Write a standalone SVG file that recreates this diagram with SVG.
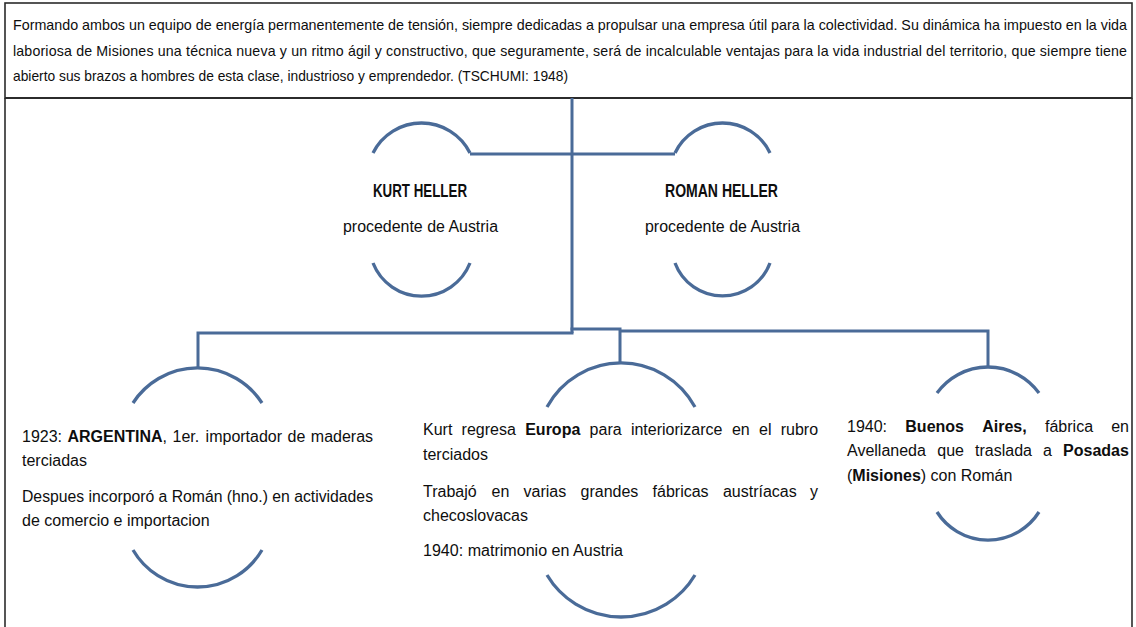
<svg xmlns="http://www.w3.org/2000/svg" width="1136" height="627" viewBox="0 0 1136 627">
<style>
.frame{fill:none;stroke:#2b2b2b;stroke-width:1.6}
.ln{fill:none;stroke:#4a6b98;stroke-width:3;stroke-linecap:butt;stroke-linejoin:miter}
.arc{fill:none;stroke:#4a6b98;stroke-width:3.3}
text{font-family:"Liberation Sans",Arial,sans-serif;fill:#0e0e0e}
.q{font-size:14.2px}
.b{font-size:16px}
.n{font-size:17.5px}
.bold{font-weight:bold}
</style>
<rect width="1136" height="627" fill="#ffffff"/>
<g id="frame">
<rect class="frame" x="5" y="3" width="1127" height="95"/>
<line x1="5" y1="98" x2="1132" y2="98" stroke="#2b2b2b" stroke-width="2.2"/>
<line class="frame" x1="5" y1="98" x2="5" y2="627"/>
<line class="frame" x1="1132" y1="98" x2="1132" y2="627"/>
</g>
<g id="quote">
<text class="q" x="13" y="30" textLength="1114" lengthAdjust="spacingAndGlyphs">Formando ambos un equipo de energía permanentemente de tensión, siempre dedicadas a propulsar una empresa útil para la colectividad. Su dinámica ha impuesto en la vida</text>
<text class="q" x="13" y="56" textLength="1114" lengthAdjust="spacing">laboriosa de Misiones una técnica nueva y un ritmo ágil y constructivo, que seguramente, será de incalculable ventajas para la vida industrial del territorio, que siempre tiene</text>
<text class="q" x="13" y="81" textLength="555" lengthAdjust="spacingAndGlyphs">abierto sus brazos a hombres de esta clase, industrioso y emprendedor. (TSCHUMI: 1948)</text>
</g>
<g id="connectors">
<polyline class="ln" points="470,154 675,154"/>
<polyline class="ln" points="572,98 572,333"/>
<polyline class="ln" points="198,368 198,333 573.5,333"/>
<polyline class="ln" points="570.5,329 620,329 620,364"/>
<polyline class="ln" points="620,331 988,331 988,366"/>
</g>
<g id="kurt">
<path class="arc" d="M373,153 A54.2,54.2 0 0 1 470,153"/>
<path class="arc" d="M373,263 A52.1,52.1 0 0 0 470,263"/>
<text class="n bold" x="420" y="197" text-anchor="middle" textLength="94" lengthAdjust="spacingAndGlyphs">KURT HELLER</text>
<text class="b" x="420.5" y="232" text-anchor="middle" textLength="155" lengthAdjust="spacingAndGlyphs">procedente de Austria</text>
</g>
<g id="roman">
<path class="arc" d="M675,153 A52.6,52.6 0 0 1 770,153"/>
<path class="arc" d="M675,263 A50.7,50.7 0 0 0 770,263"/>
<text class="n bold" x="721.5" y="197" text-anchor="middle" textLength="113" lengthAdjust="spacingAndGlyphs">ROMAN HELLER</text>
<text class="b" x="722.5" y="232" text-anchor="middle" textLength="155" lengthAdjust="spacingAndGlyphs">procedente de Austria</text>
</g>
<g id="argentina">
<path class="arc" d="M133,403 A76.9,76.9 0 0 1 262,403"/>
<path class="arc" d="M133,550 A74.7,74.7 0 0 0 262,550"/>
<text class="b" y="442"><tspan x="22">1923:</tspan><tspan x="67.5" class="bold">ARGENTINA</tspan><tspan>,</tspan><tspan x="172.5">1er.</tspan><tspan x="205.6">importador</tspan><tspan x="287.5">de</tspan><tspan x="310.8">maderas</tspan></text>
<text class="b" x="22" y="466">terciadas</text>
<text class="b" x="22" y="502" textLength="351" lengthAdjust="spacingAndGlyphs">Despues incorporó a Román (hno.) en actividades</text>
<text class="b" x="22" y="526">de comercio e importacion</text>
</g>
<g id="europa">
<path class="arc" d="M547,407 A84.2,84.2 0 0 1 695,407"/>
<path class="arc" d="M547,575 A86.2,86.2 0 0 0 695,575"/>
<text class="b" y="435"><tspan x="423">Kurt</tspan><tspan x="461.6">regresa</tspan><tspan x="525.2" class="bold">Europa</tspan><tspan x="589.6">para</tspan><tspan x="630.9">interiorizarce</tspan><tspan x="731.9">en</tspan><tspan x="759">el</tspan><tspan x="780.7">rubro</tspan></text>
<text class="b" x="423" y="460">terciados</text>
<text class="b" y="497"><tspan x="423">Trabajó</tspan><tspan x="491.5">en</tspan><tspan x="523.5">varias</tspan><tspan x="580.5">grandes</tspan><tspan x="652.6">fábricas</tspan><tspan x="722.9">austríacas</tspan><tspan x="810">y</tspan></text>
<text class="b" x="423" y="521">checoslovacas</text>
<text class="b" x="423" y="556" textLength="200" lengthAdjust="spacingAndGlyphs">1940: matrimonio en Austria</text>
</g>
<g id="buenos-aires">
<path class="arc" d="M937,393 A63,63 0 0 1 1039,393"/>
<path class="arc" d="M937,512 A60.4,60.4 0 0 0 1039,512"/>
<text class="b" y="432"><tspan x="847">1940:</tspan><tspan x="905.3" class="bold">Buenos</tspan><tspan x="982.2" class="bold">Aires,</tspan><tspan x="1045">fábrica</tspan><tspan x="1111.2">en</tspan></text>
<text class="b" y="456"><tspan x="847">Avellaneda</tspan><tspan x="937.3">que</tspan><tspan x="975.1">traslada</tspan><tspan x="1043.1">a</tspan><tspan x="1063.1" class="bold">Posadas</tspan></text>
<text class="b" x="847" y="481">(<tspan class="bold">Misiones</tspan>) con Román</text>
</g>
</svg>
